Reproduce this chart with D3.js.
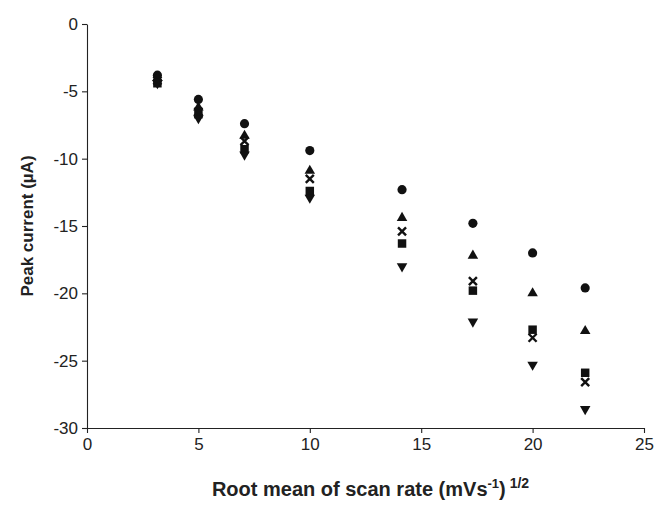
<!DOCTYPE html>
<html>
<head>
<meta charset="utf-8">
<script src="https://cdn.jsdelivr.net/npm/d3@7"></script>
<style>
  body { margin: 0; background: #fff; }
  text { font-family: "Liberation Sans", Arial, sans-serif; fill: #222; }
</style>
</head>
<body>
<div id="chart"></div>
<script>
// square root of scan rate
const rootScan = [3.16, 5, 7.07, 10, 14.14, 17.32, 20, 22.36];

// peak current for each set (uA)
const circleVals = [-3.8, -5.6, -7.4, -9.4, -12.3, -14.8, -17.0, -19.6];
const triUpVals = [-4.0, -6.2, -8.3, -10.9, -14.4, -17.2, -20.0, -22.8];
const crossVals = [-4.2, -6.5, -8.7, -11.5, -15.4, -19.1, -23.3, -26.6];
const squareVals = [-4.4, -6.7, -9.3, -12.4, -16.3, -19.8, -22.7, -25.9];
const triDownVals = [-4.4, -7.0, -9.7, -12.9, -18.0, -22.1, -25.3, -28.6];

const xTicks = [0, 5, 10, 15, 20, 25];
const yTicks = [0, -5, -10, -15, -20, -25, -30];

const width = 658, height = 506;
const margin = {top: 24, right: 14, bottom: 78, left: 87};

let svg = d3.select("#chart")
    .append("svg")
    .attr("width", width)
    .attr("height", height);

let x = d3.scaleLinear()
    .domain([0, 25])
    .range([margin.left, width - margin.right]);

let y = d3.scaleLinear()
    .domain([-30, 0])
    .range([height - margin.bottom, margin.top]);

let xAxis = svg.append("g")
    .attr("transform", `translate(0, ${y(-30)})`)
    .call(d3.axisBottom(x).tickValues(xTicks).tickFormat(d => String(d))
        .tickSize(5).tickPadding(5).tickSizeOuter(0));

let yAxis = svg.append("g")
    .attr("transform", `translate(${x(0)}, 0)`)
    .call(d3.axisLeft(y).tickValues(yTicks).tickFormat(d => String(d))
        .tickSize(5).tickPadding(4).tickSizeOuter(0));

[xAxis, yAxis].forEach(function(a) {
    a.selectAll("path, line").attr("stroke", "#222").attr("stroke-width", 1.1);
    a.selectAll("text").style("font-size", "17px").attr("fill", "#222");
});

// series and their symbols
const series = [
    {vals: circleVals, sym: d3.symbolCircle, size: 66},
    {vals: triUpVals, sym: d3.symbolTriangle, size: 48},
    {vals: squareVals, sym: d3.symbolSquare, size: 72},
    {vals: triDownVals, sym: d3.symbolTriangle, size: 48, flip: true}
];

series.forEach(function(s) {
    svg.append("g").selectAll("path")
        .data(s.vals)
        .enter()
        .append("path")
        .attr("d", d3.symbol().type(s.sym).size(s.size))
        .attr("transform", function(d, i) {
            return `translate(${x(rootScan[i])}, ${y(d)})` + (s.flip ? " rotate(180)" : "");
        })
        .attr("fill", "#111");
});

// crosses
svg.append("g").selectAll("path")
    .data(crossVals)
    .enter()
    .append("path")
    .attr("d", "M-4,-4L4,4M-4,4L4,-4")
    .attr("transform", function(d, i) {
        return `translate(${x(rootScan[i])}, ${y(d)})`;
    })
    .attr("stroke", "#111")
    .attr("stroke-width", 2.4)
    .attr("fill", "none");

// axis titles
svg.append("text")
    .attr("transform", `translate(${(x(0) + x(25)) / 2 + 5}, 496)`)
    .style("text-anchor", "middle")
    .style("font-size", "20px")
    .style("font-weight", "bold")
    .html('Root mean of scan rate (mVs<tspan dy="-8" font-size="13px">-1</tspan><tspan dy="8">)</tspan><tspan dy="-8" font-size="14px"> 1/2</tspan>');

svg.append("text")
    .attr("transform", `translate(33, ${(y(0) + y(-30)) / 2}) rotate(-90)`)
    .style("text-anchor", "middle")
    .style("font-size", "17px")
    .style("font-weight", "bold")
    .text("Peak current (\u00b5A)");
</script>
</body>
</html>
